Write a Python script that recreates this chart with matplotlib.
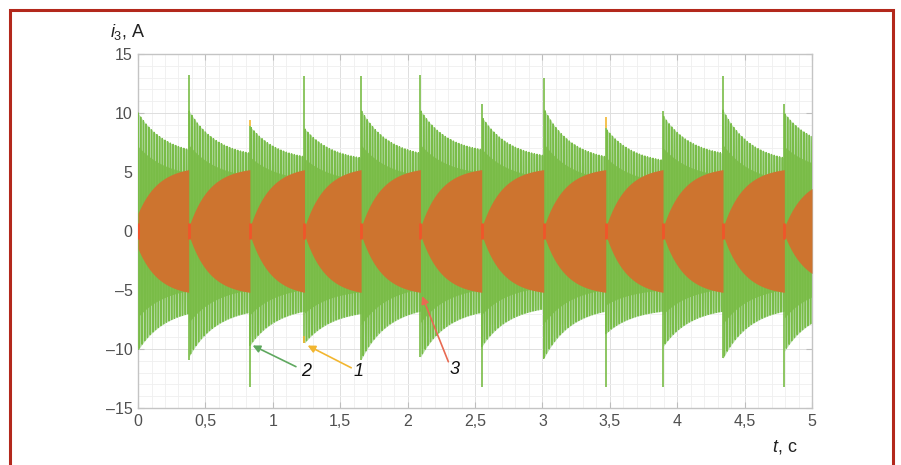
import numpy as np
import matplotlib
matplotlib.use("Agg")
import matplotlib.pyplot as plt
from matplotlib.patches import Rectangle
from matplotlib.ticker import MultipleLocator, FuncFormatter

plt.rcParams['font.family'] = ['Liberation Sans', 'DejaVu Sans']
plt.rcParams['mathtext.fontset'] = 'custom'
plt.rcParams['mathtext.rm'] = 'Liberation Sans'
plt.rcParams['mathtext.it'] = 'Liberation Sans:italic'

# switching instants, s (last one is the end of the record)
t_switch = [0.0, 0.376, 0.83, 1.235, 1.655, 2.095, 2.55, 3.01, 3.47, 3.895, 4.34, 4.795, 5.0]
# curve 2 (green) envelope, A: value right after switching and at the end of each interval
up_start = [10.0, 10.25, 8.9, 8.7, 10.25, 10.25, 9.7, 10.4, 8.7, 9.8, 10.25, 10.0]
up_end = [6.9, 6.6, 6.3, 6.2, 6.6, 6.9, 6.4, 6.3, 6.0, 6.6, 6.2, 8.0]
low_start = [-10.1, -10.7, -9.7, -9.5, -10.9, -10.7, -9.8, -10.8, -8.7, -9.8, -10.8, -10.2]
low_end = [-7.0, -6.9, -6.8, -7.0, -6.8, -6.9, -6.6, -6.8, -6.8, -6.8, -6.8, -7.8]
# single switching spikes of curve 2, A
spike_top = [10.0, 13.2, 8.9, 13.1, 13.1, 13.2, 10.8, 13.0, 8.7, 10.2, 13.1, 10.8]
spike_bot = [-10.1, -10.9, -13.2, -9.5, -10.9, -10.7, -13.2, -10.8, -13.2, -13.2, -10.8, -13.2]
# curve 1 (yellow) where it shows from under curve 2
y1_t = [0.83, 1.235, 3.47]
y1_lo = [8.9, -9.5, 8.7]
y1_hi = [9.4, -8.9, 9.7]
# curve 3 (orange) envelope, A
or_start = [1.5, 0.3, 0.3, 0.3, 0.3, 0.3, 0.3, 0.3, 0.3, 0.3, 0.3, 0.3]
or_end = [5.2, 5.2, 5.2, 5.2, 5.2, 5.2, 5.2, 5.2, 5.2, 5.2, 5.2, 3.6]

f_net = 50.0

t = np.linspace(0, 5, 40001)
up = np.zeros_like(t)
lo = np.zeros_like(t)
orng = np.zeros_like(t)
for i in range(len(t_switch) - 1):
    a, b = t_switch[i], t_switch[i + 1]
    m = (t >= a) & (t <= b)
    tau = (t[m] - a) / 0.45
    k = 2.2
    w = (np.exp(-k * tau) - np.exp(-k * (b - a) / 0.45)) / (1 - np.exp(-k * (b - a) / 0.45))
    up[m] = up_end[i] + (up_start[i] - up_end[i]) * w
    lo[m] = low_end[i] + (low_start[i] - low_end[i]) * w
    g = (1 - np.exp(-3.0 * tau)) / (1 - np.exp(-3.0 * (b - a) / 0.45))
    orng[m] = or_start[i] + (or_end[i] - or_start[i]) * g

mid = (up + lo) / 2
amp = (up - lo) / 2
i2 = mid + amp * np.cos(2 * np.pi * f_net * t)

fig = plt.figure(figsize=(9.01, 4.65), dpi=100)
ax = fig.add_axes([0.1532, 0.1226, 0.7480, 0.7613])

ax.fill_between(t, lo, up, color='#b8ddab', lw=0, zorder=2)
ax.fill_between(t, mid - 0.72 * amp, mid + 0.72 * amp, color='#82c152', lw=0, zorder=2)
ax.plot(t, i2, color='#79bc47', lw=0.9, zorder=3)
ax.vlines(t_switch[:-1], spike_bot, spike_top, color='#79bc47', lw=1.2, zorder=3)
ax.vlines(y1_t, y1_lo, y1_hi, color='#f2b630', lw=1.2, zorder=3)
ax.fill_between(t, -orng, orng, color='#cd742f', lw=0, zorder=4)
ax.vlines(t_switch[:-1], -0.7, 0.7, color='#f0552a', lw=2.0, zorder=5)

ax.set_xlim(0, 5)
ax.set_ylim(-15, 15)
ax.xaxis.set_major_locator(MultipleLocator(0.5))
ax.xaxis.set_minor_locator(MultipleLocator(0.1))
ax.yaxis.set_major_locator(MultipleLocator(5))
ax.yaxis.set_minor_locator(MultipleLocator(1))
fmt = FuncFormatter(lambda v, p: ('%g' % v).replace('.', ',').replace('-', '\u2013'))
ax.xaxis.set_major_formatter(fmt)
ax.yaxis.set_major_formatter(fmt)
ax.grid(True, which='major', color='#dedede', lw=0.7, zorder=0)
ax.grid(True, which='minor', color='#efefef', lw=0.6, zorder=0)
ax.set_axisbelow(True)
ax.tick_params(which='major', direction='in', length=4, color='#bdbdbd',
               labelsize=11.5, labelcolor='#505050', top=True, right=True, pad=4)
ax.tick_params(which='minor', length=0)
for s in ax.spines.values():
    s.set_color('#c4c4c4')
    s.set_linewidth(1.0)

fig.text(110 / 901, 1 - 32 / 465, r'$i_3$, A', fontsize=13, color='#222222', va='center')
fig.text(772 / 901, 1 - 447 / 465, r'$t$, c', fontsize=13, color='#222222', va='center')

ax.annotate('', xy=(0.832, -9.6), xytext=(1.19, -11.6),
            arrowprops=dict(arrowstyle='-|>', color='#5fa85f', lw=1.2, mutation_scale=11), zorder=6)
ax.annotate('', xy=(1.24, -9.6), xytext=(1.60, -11.7),
            arrowprops=dict(arrowstyle='-|>', color='#f2b630', lw=1.2, mutation_scale=11), zorder=6)
ax.annotate('', xy=(2.10, -5.3), xytext=(2.31, -11.3),
            arrowprops=dict(arrowstyle='-|>', color='#e86a52', lw=1.2, mutation_scale=11), zorder=6)
ax.text(1.245, -11.9, '2', fontsize=13, style='italic', color='#111111', ha='center', va='center')
ax.text(1.635, -11.9, '1', fontsize=13, style='italic', color='#111111', ha='center', va='center')
ax.text(2.35, -11.7, '3', fontsize=13, style='italic', color='#111111', ha='center', va='center')

fig.patches.append(Rectangle((10 / 901, -0.05), 883 / 901, 1.05 - 10 / 465, transform=fig.transFigure,
                             fill=False, edgecolor='#b3281c', lw=2.2))

fig.savefig('out.png', dpi=100)
